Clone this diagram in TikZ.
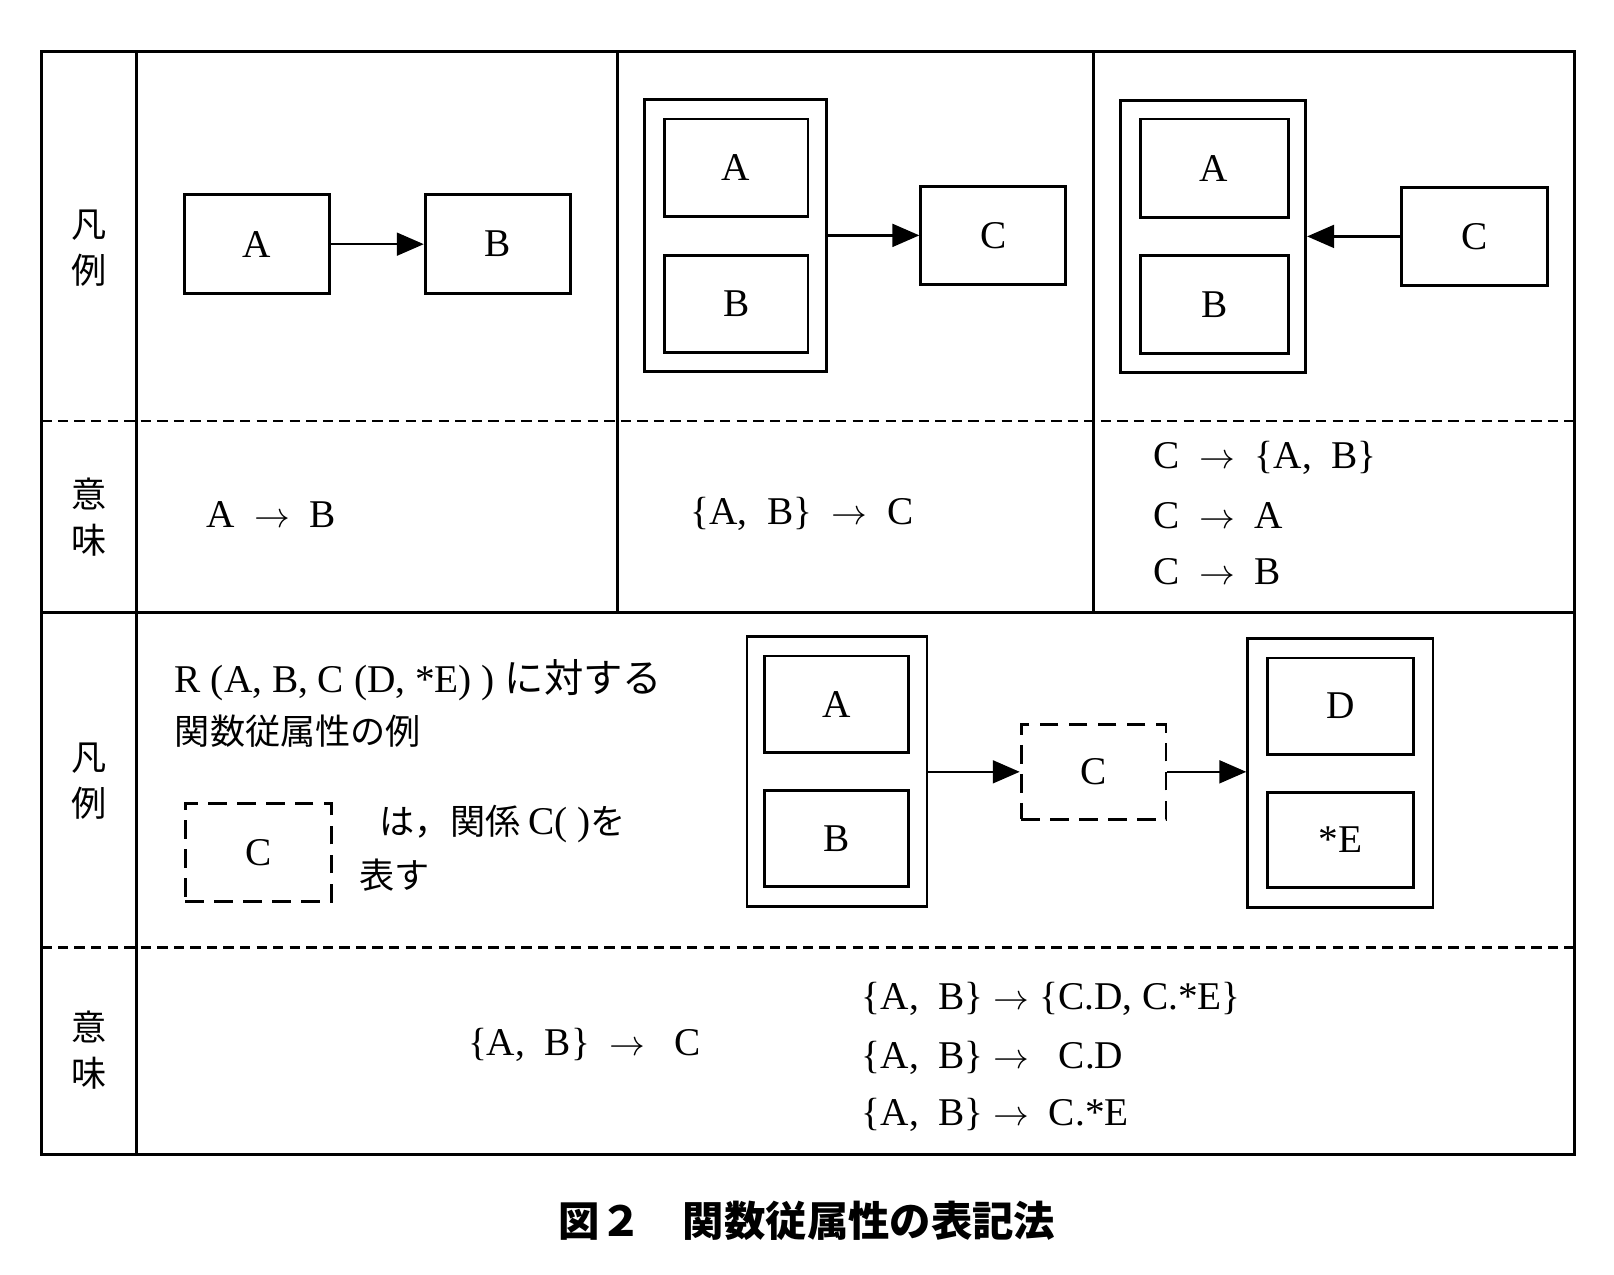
\documentclass[tikz,border=0pt]{standalone}
\usepackage{fontspec}
\setmainfont{Liberation Serif}
\newfontfamily\jp{Noto Sans CJK JP}
\usetikzlibrary{arrows.meta}
\begin{document}
\begin{tikzpicture}[x=0.5pt,y=-0.5pt,
 bx/.style={draw,line width=1.4pt,inner sep=0pt},
 dbx/.style={draw,line width=1.4pt,dash pattern=on 9pt off 5pt},
 ar/.style={line width=1.2pt,-{Triangle[length=13pt,width=11pt]}},
 tx/.style={font=\fontsize{19}{22}\selectfont},
 jt/.style={font=\jp\fontsize{17}{22}\selectfont}]
\useasboundingbox (0,0) rectangle (1560,1232);
% table
\draw[line width=1.6pt] (40,50) rectangle (1522,1116);
\draw[line width=1.4pt] (132,50) -- (132,1116) (40,592) -- (1522,592)
 (597,50) -- (597,592) (1057,50) -- (1057,592);
\draw[line width=1.2pt,dash pattern=on 5pt off 3pt] (40,407) -- (1522,407) (40,916) -- (1522,916);
\foreach \y/\t in {240/凡\\例,500/意\\味,755/凡\\例,1015/意\\味}
 \node[jt,align=center] (lab\y) at (86,\y) {\t};
% cell 1
\node[bx,tx,minimum width=70pt,minimum height=48pt] (a1) at (248.5,236) {A};
\node[bx,tx,minimum width=70pt,minimum height=48pt] (b1) at (481,236) {B};
\draw[ar] (a1) -- (b1);
\node[tx] (m1) at (262,497) {A \ $\rightarrow$ \ B};
% cell 2
\node[bx,minimum width=88pt,minimum height=131.5pt] (o2) at (711,227.5) {};
\node[bx,tx,minimum width=69.5pt,minimum height=47pt] (a2) at (711.5,162) {A};
\node[bx,tx,minimum width=69.5pt,minimum height=47pt] (b2) at (711.5,294) {B};
\node[bx,tx,minimum width=70pt,minimum height=47.5pt] (c2) at (960,227.5) {C};
\draw[ar] (o2.east|-c2) -- (c2);
\node[tx] (m2) at (775,497) {\{A,\ \ B\} \ $\rightarrow$ \ C};
% cell 3
\node[bx,minimum width=89.5pt,minimum height=131.5pt] (o3) at (1172.5,228.5) {};
\node[bx,tx,minimum width=71.5pt,minimum height=47.5pt] (a3) at (1173.5,162.5) {A};
\node[bx,tx,minimum width=71.5pt,minimum height=47.5pt] (b3) at (1173.5,294.5) {B};
\node[bx,tx,minimum width=70.5pt,minimum height=47.5pt] (c3) at (1425.5,228.5) {C};
\draw[ar] (c3) -- (o3.east|-c3);
\node[tx,anchor=west] (m3a) at (1108,443) {C \ $\rightarrow$ \ \{A,\ \ B\}};
\node[tx,anchor=west] (m3b) at (1108,498) {C \ $\rightarrow$ \ A};
\node[tx,anchor=west] (m3c) at (1108,553) {C \ $\rightarrow$ \ B};
% bottom legend
\node[tx,anchor=west] (r1) at (162,657) {R (A, B, C (D, *E) ) {\jp に対する}};
\node[jt,anchor=west] (r2) at (162,707) {関数従属性の例};
\node[dbx,tx,minimum width=70.5pt,minimum height=47pt] (cl) at (249.5,824) {C};
\node[jt,anchor=west] (r3) at (360,796) {は，関係 {\rmfamily\fontsize{19}{22}\selectfont C( )}を};
\node[jt,anchor=west] (r4) at (340,846) {表す};
\node[bx,minimum width=87pt,minimum height=130.5pt] (o4) at (809,745.5) {};
\node[bx,tx,minimum width=69.5pt,minimum height=46.5pt] (a4) at (808.5,680.5) {A};
\node[bx,tx,minimum width=69.5pt,minimum height=46.5pt] (b4) at (808.5,810.5) {B};
\node[dbx,tx,minimum width=70pt,minimum height=46pt] (c4) at (1057,746) {C};
\node[bx,minimum width=89.5pt,minimum height=130pt] (o5) at (1295.5,747) {};
\node[bx,tx,minimum width=70.5pt,minimum height=46.5pt] (d5) at (1295.5,682.5) {D};
\node[bx,tx,minimum width=70.5pt,minimum height=46pt] (e5) at (1295.5,812) {*E};
\draw[ar] (o4.east|-c4) -- (c4);
\draw[ar] (c4) -- (o5.west|-c4);
% bottom meaning
\node[tx] (m4) at (565,1010) {\{A,\ \ B\} \ $\rightarrow$ \ \ C};
\node[tx,anchor=west] (m5a) at (826,965) {\{A,\ \ B\} $\rightarrow$ \{C.D, C.*E\}};
\node[tx,anchor=west] (m5b) at (826,1022) {\{A,\ \ B\} $\rightarrow$\ \ \ C.D};
\node[tx,anchor=west] (m5c) at (826,1078) {\{A,\ \ B\} $\rightarrow$\ \ C.*E};
% caption
\node[font=\jp\bfseries\fontsize{20}{24}\selectfont] (cap) at (780,1180) {図２\quad 関数従属性の表記法};
\end{tikzpicture}
\end{document}
